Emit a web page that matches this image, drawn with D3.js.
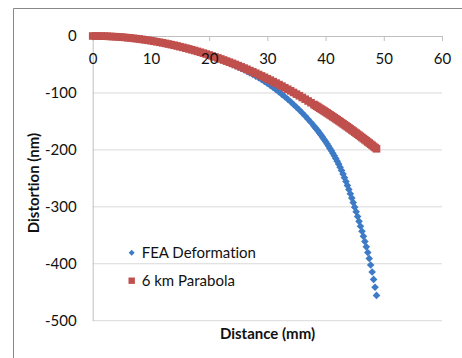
<!DOCTYPE html>
<html>
<head>
<meta charset="utf-8">
<script src="https://cdn.jsdelivr.net/npm/d3@7"></script>
<style>
  body { margin: 0; background: #fff; }
  text { font-family: Lato, "Open Sans", sans-serif; fill: #111; font-variant-ligatures: none; }
</style>
</head>
<body>
<svg id="chart" width="462" height="358"></svg>
<script>
// distance along the part (mm)
var distance = [
    0, 0.5, 1, 1.5, 2, 2.5, 3, 3.5, 4, 4.5,
    5, 5.5, 6, 6.5, 7, 7.5, 8, 8.5, 9, 9.5,
    10, 10.5, 11, 11.5, 12, 12.5, 13, 13.5, 14, 14.5,
    15, 15.5, 16, 16.5, 17, 17.5, 18, 18.5, 19, 19.5,
    20, 20.5, 21, 21.5, 22, 22.5, 23, 23.5, 24, 24.5,
    25, 25.5, 26, 26.5, 27, 27.5, 28, 28.5, 29, 29.5,
    30, 30.5, 31, 31.5, 32, 32.5, 33, 33.5, 34, 34.5,
    35, 35.5, 36, 36.5, 37, 37.5,
    38, 38.25, 38.5, 38.75, 39, 39.25, 39.5, 39.75, 40, 40.25,
    40.5, 40.75, 41, 41.25, 41.5, 41.75, 42,
    42.25, 42.5, 42.75, 43, 43.25, 43.5, 43.75, 44, 44.25, 44.5,
    44.75, 45, 45.25, 45.5, 45.75, 46, 46.25, 46.5, 46.75, 47,
    47.25, 47.5, 47.75, 48, 48.25, 48.5, 48.75
];

// FEA deformation (nm)
var feaDeformation = [
    0, 0, -0.1, -0.2, -0.3, -0.5, -0.8, -1.0, -1.3, -1.7,
    -2.1, -2.5, -3.0, -3.5, -4.1, -4.7, -5.3, -6.0, -6.8, -7.5,
    -8.3, -9.2, -10.1, -11.0, -12.0, -13.0, -14.1, -15.2, -16.3, -17.5,
    -18.8, -20.0, -21.3, -22.7, -24.1, -25.5, -27.0, -28.5, -30.1, -31.7,
    -33.8, -35.6, -37.6, -39.5, -41.5, -43.6, -45.7, -47.8, -50.0, -52.2,
    -54.6, -57.0, -59.5, -62.1, -64.8, -67.5, -70.4, -73.4, -76.5, -79.8,
    -83.2, -86.7, -90.5, -94.3, -98.3, -102.5, -106.8, -111.1, -115.6, -120.3,
    -125.0, -130.0, -135.1, -140.5, -146.1, -151.9,
    -157.9, -161.1, -164.3, -167.5, -170.9, -174.4, -178.0, -181.7, -185.3, -189.3,
    -193.3, -197.4, -201.6, -206.0, -210.5, -215.2, -219.8,
    -225.0, -230.4, -236.2, -242.4, -248.8, -255.5, -262.4, -269.6, -277.1, -284.7,
    -292.6, -300.6, -308.7, -317.0, -325.5, -334.1, -342.9, -351.8, -360.9, -370.3,
    -380.2, -390.7, -402.1, -414.4, -427.5, -441.2, -455.6
];

// 6 km parabola (nm)
var parabola6km = [
    0, 0, -0.1, -0.2, -0.3, -0.5, -0.8, -1.0, -1.3, -1.7,
    -2.1, -2.5, -3.0, -3.5, -4.1, -4.7, -5.3, -6.0, -6.8, -7.5,
    -8.3, -9.2, -10.1, -11.0, -12.0, -13.0, -14.1, -15.2, -16.3, -17.5,
    -18.8, -20.0, -21.3, -22.7, -24.1, -25.5, -27.0, -28.5, -30.1, -31.7,
    -33.3, -35.0, -36.8, -38.5, -40.3, -42.2, -44.1, -46.0, -48.0, -50.0,
    -52.1, -54.2, -56.3, -58.5, -60.8, -63.0, -65.3, -67.7, -70.1, -72.5,
    -75.0, -77.5, -80.1, -82.7, -85.3, -88.0, -90.8, -93.5, -96.3, -99.2,
    -102.1, -105.0, -108.0, -111.0, -114.1, -117.2,
    -120.3, -121.9, -123.5, -125.1, -126.8, -128.4, -130.0, -131.7, -133.3, -135.0,
    -136.7, -138.4, -140.1, -141.8, -143.5, -145.3, -147.0,
    -148.8, -150.5, -152.3, -154.1, -155.9, -157.7, -159.5, -161.3, -163.2, -165.0,
    -166.9, -168.8, -170.6, -172.5, -174.4, -176.3, -178.3, -180.2, -182.1, -184.1,
    -186.1, -188.0, -190.0, -192.0, -194.0, -196.0, -198.1
];

var xTicks = [0, 10, 20, 30, 40, 50, 60];
var yTicks = [0, -100, -200, -300, -400, -500];
var seriesNames = ["FEA Deformation", "6 km Parabola"];

var svg = d3.select("#chart");

// plot area
var plotLeft = 92.7, plotRight = 442, plotTop = 36, plotBottom = 320.7;

var xScale = d3.scaleLinear().domain([0, 60]).range([plotLeft, plotRight]);
var yScale = d3.scaleLinear().domain([-500, 0]).range([plotBottom, plotTop]);

// plain hyphen for negatives, like the original
var plainFormat = function (d) { return String(d); };

// outer chart frame (only left and top edges are inside the picture)
svg.append("path")
    .attr("d", "M13.5,358V8.5H462")
    .attr("fill", "none")
    .attr("stroke", "#888");

// horizontal gridlines
svg.append("g")
    .selectAll("line")
    .data(yTicks.filter(function (d) { return d !== 0; }))
    .enter().append("line")
    .attr("x1", plotLeft)
    .attr("x2", plotRight)
    .attr("y1", function (d) { return yScale(d); })
    .attr("y2", function (d) { return yScale(d); })
    .attr("stroke", "#d9d9d9");

// axis lines go under the markers
var xAxisGen = d3.axisBottom(xScale).tickValues(xTicks).tickFormat(plainFormat)
    .tickSizeInner(5).tickSizeOuter(0).tickPadding(12);

var xAxisLines = svg.append("g")
    .attr("transform", "translate(0," + yScale(0) + ")")
    .call(xAxisGen);
xAxisLines.selectAll("text").remove();

var yAxis = svg.append("g")
    .attr("transform", "translate(" + plotLeft + ",0)")
    .call(d3.axisLeft(yScale).tickValues(yTicks).tickFormat(plainFormat).tickSize(0).tickPadding(16));
yAxis.selectAll("text").style("font-size", "15px");

svg.selectAll(".domain").attr("stroke", "#bfbfbf");
svg.selectAll(".tick line").attr("stroke", "#bfbfbf");

var diamond = function (r) { return "M0," + (-r) + "L" + r + ",0L0," + r + "L" + (-r) + ",0Z"; };

// FEA series (diamonds)
svg.append("g")
    .selectAll("path")
    .data(distance)
    .enter().append("path")
    .attr("d", diamond(3.8))
    .attr("transform", function (d, i) { return "translate(" + xScale(d) + "," + yScale(feaDeformation[i]) + ")"; })
    .attr("fill", "#3D7BC6");

// parabola series (squares)
svg.append("g")
    .selectAll("rect")
    .data(distance)
    .enter().append("rect")
    .attr("x", function (d) { return xScale(d) - 3.8; })
    .attr("y", function (d, i) { return yScale(parabola6km[i]) - 3.8; })
    .attr("width", 7.6)
    .attr("height", 7.6)
    .attr("fill", "#C0504D");

// x tick labels drawn over the series
var xAxisLabels = svg.append("g")
    .attr("transform", "translate(0," + yScale(0) + ")")
    .call(xAxisGen);
xAxisLabels.select(".domain").remove();
xAxisLabels.selectAll(".tick line").remove();
xAxisLabels.selectAll("text").style("font-size", "15px");

// legend
var legend = svg.append("g");
legend.append("path")
    .attr("d", diamond(3))
    .attr("transform", "translate(131.7,252.7)")
    .attr("fill", "#3D7BC6");
legend.append("rect")
    .attr("x", 128.5).attr("y", 277.5)
    .attr("width", 6.4).attr("height", 6.4)
    .attr("fill", "#C0504D");
legend.selectAll("text")
    .data(seriesNames)
    .enter().append("text")
    .attr("x", 141.7)
    .attr("y", function (d, i) { return 252.7 + i * 28; })
    .attr("dy", "0.35em")
    .style("font-size", "15px")
    .text(function (d) { return d; });

// axis titles
svg.append("text")
    .attr("x", 267.5)
    .attr("y", 334)
    .attr("dy", "0.35em")
    .attr("text-anchor", "middle")
    .style("font-size", "15px")
    .style("font-weight", "bold")
    .text("Distance (mm)");

svg.append("text")
    .attr("transform", "translate(34,183) rotate(-90)")
    .attr("dy", "0.35em")
    .attr("text-anchor", "middle")
    .style("font-size", "15px")
    .style("font-weight", "bold")
    .text("Distortion (nm)");
</script>
</body>
</html>
